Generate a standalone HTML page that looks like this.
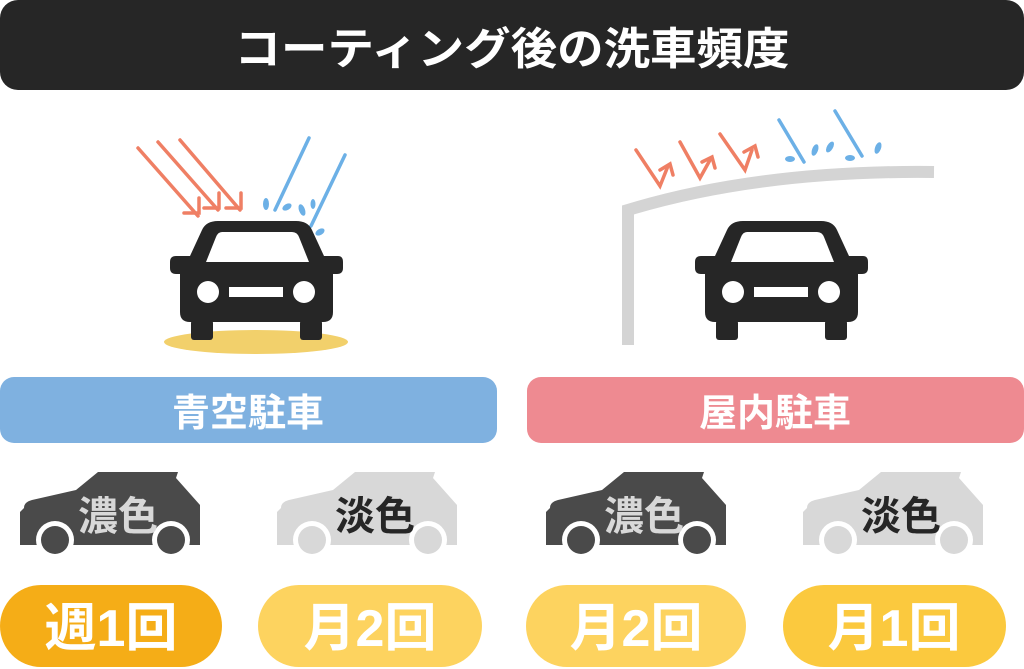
<!DOCTYPE html>
<html><head><meta charset="utf-8"><style>
html,body{margin:0;padding:0;background:#fff;width:1024px;height:669px;overflow:hidden}
svg{display:block}
text{font-family:"Liberation Sans","Noto Sans CJK JP",sans-serif;font-weight:bold}
</style></head><body>
<svg width="1024" height="669" viewBox="0 0 1024 669" xmlns="http://www.w3.org/2000/svg">
<defs>
<g id="front">
  <path d="M218 221 H296 Q308 221 312 230 L324 256 H338 Q343 256 343 262 V268 Q343 274 337 274 H333 V312 Q333 322 323 322 H190 Q180 322 180 312 V274 H176 Q170 274 170 268 V262 Q170 256 176 256 H190 L202 230 Q206 221 218 221 Z" fill="#262626"/>
  <path d="M222 232 H292 Q297 232 299 237 L309 262 H206 L216 237 Q218 232 222 232 Z" fill="#fff"/>
  <circle cx="208" cy="292" r="11" fill="#fff"/>
  <circle cx="304" cy="292" r="11" fill="#fff"/>
  <rect x="229" y="287" width="54" height="10" fill="#fff"/>
  <rect x="191" y="320" width="22" height="20" rx="3" fill="#262626"/>
  <rect x="300" y="320" width="22" height="20" rx="3" fill="#262626"/>
</g>
<g id="side">
  <path d="M98 472 H178 L176 478 L200 505 V545 H20 V512 L24 508 Q24 502 32 500 L76 490 Z"/>
</g>
</defs>

<rect x="0" y="0" width="1024" height="90" rx="18" fill="#262626"/>
<text x="512" y="64" text-anchor="middle" fill="#fff" font-size="44" textLength="555" lengthAdjust="spacingAndGlyphs">コーティング後の洗車頻度</text>

<!-- left scene -->
<ellipse cx="256" cy="342" rx="92" ry="12" fill="#f2d06b"/>
<g stroke="#ef7f64" stroke-width="3.5" stroke-linecap="round" fill="none">
  <path d="M138 148 L198 216"/><path d="M158 142 L218 210"/><path d="M180 140 L240 210"/>
  <path d="M184 213 H199 V198"/><path d="M204 208 H219 V193"/><path d="M226 208 H241 V193"/>
</g>
<g stroke="#6cb0e6" stroke-width="3.5" stroke-linecap="round">
  <line x1="309" y1="138" x2="275" y2="210"/><line x1="345" y1="155" x2="311" y2="226"/>
</g>
<g fill="#6cb0e6">
  <ellipse cx="266" cy="204" rx="3" ry="6"/><ellipse cx="287" cy="207" rx="5" ry="3" transform="rotate(-30 287 207)"/>
  <ellipse cx="302" cy="210" rx="3" ry="6" transform="rotate(-20 302 210)"/><ellipse cx="313" cy="204" rx="2.5" ry="5"/>
  <ellipse cx="320" cy="232" rx="5" ry="3" transform="rotate(-30 320 232)"/>
</g>
<use href="#front"/>

<!-- right scene -->
<path d="M628 345 V210 Q760 170 934 172" fill="none" stroke="#d4d4d4" stroke-width="12"/>
<g stroke="#ef7f64" stroke-width="3.5" stroke-linecap="round" fill="none">
  <path d="M636 150 L660 186 L668 166"/><path d="M660 170 L670 164 L673 175"/>
  <path d="M680 142 L700 178 L710 160"/><path d="M702 162 L712 157 L715 168"/>
  <path d="M720 134 L745 170 L752 150"/><path d="M744 152 L755 146 L758 157"/>
</g>
<g stroke="#6cb0e6" stroke-width="3.5" stroke-linecap="round">
  <line x1="779" y1="120" x2="804" y2="162"/><line x1="835" y1="111" x2="862" y2="156"/>
</g>
<g fill="#6cb0e6">
  <ellipse cx="790" cy="159" rx="5" ry="3"/><ellipse cx="815" cy="150" rx="3" ry="6" transform="rotate(20 815 150)"/>
  <ellipse cx="830" cy="147" rx="3" ry="6" transform="rotate(30 830 147)"/><ellipse cx="850" cy="158" rx="5" ry="3"/>
  <ellipse cx="878" cy="148" rx="3" ry="6" transform="rotate(20 878 148)"/>
</g>
<use href="#front" transform="translate(525 0)"/>

<!-- section bars -->
<rect x="0" y="377" width="497" height="66" rx="14" fill="#7fb1e0"/>
<text x="248" y="426" text-anchor="middle" fill="#fff" font-size="38">青空駐車</text>
<rect x="527" y="377" width="497" height="66" rx="14" fill="#ee8a91"/>
<text x="775" y="426" text-anchor="middle" fill="#fff" font-size="38">屋内駐車</text>

<!-- side cars -->
<g>
 <use href="#side" fill="#4a4a4a"/>
 <circle cx="55" cy="540" r="19" fill="#fff"/><circle cx="55" cy="540" r="14" fill="#4a4a4a"/>
 <circle cx="171" cy="540" r="19" fill="#fff"/><circle cx="171" cy="540" r="14" fill="#4a4a4a"/>
 <text x="118" y="530" text-anchor="middle" fill="#d8d8d8" font-size="40">濃色</text>
</g>
<g transform="translate(257 0)">
 <use href="#side" fill="#d8d8d8"/>
 <circle cx="55" cy="540" r="19" fill="#fff"/><circle cx="55" cy="540" r="14" fill="#d8d8d8"/>
 <circle cx="171" cy="540" r="19" fill="#fff"/><circle cx="171" cy="540" r="14" fill="#d8d8d8"/>
 <text x="118" y="530" text-anchor="middle" fill="#262626" font-size="40">淡色</text>
</g>
<g transform="translate(526 0)">
 <use href="#side" fill="#4a4a4a"/>
 <circle cx="55" cy="540" r="19" fill="#fff"/><circle cx="55" cy="540" r="14" fill="#4a4a4a"/>
 <circle cx="171" cy="540" r="19" fill="#fff"/><circle cx="171" cy="540" r="14" fill="#4a4a4a"/>
 <text x="118" y="530" text-anchor="middle" fill="#d8d8d8" font-size="40">濃色</text>
</g>
<g transform="translate(783 0)">
 <use href="#side" fill="#d8d8d8"/>
 <circle cx="55" cy="540" r="19" fill="#fff"/><circle cx="55" cy="540" r="14" fill="#d8d8d8"/>
 <circle cx="171" cy="540" r="19" fill="#fff"/><circle cx="171" cy="540" r="14" fill="#d8d8d8"/>
 <text x="118" y="530" text-anchor="middle" fill="#262626" font-size="40">淡色</text>
</g>

<!-- pills -->
<rect x="0" y="585" width="222" height="82" rx="41" fill="#f5ad17"/>
<text x="111" y="646" text-anchor="middle" fill="#fff" font-size="52">週1回</text>
<rect x="258" y="585" width="224" height="82" rx="41" fill="#fdd35f"/>
<text x="370" y="646" text-anchor="middle" fill="#fff" font-size="52">月2回</text>
<rect x="526" y="585" width="220" height="82" rx="41" fill="#fdd35f"/>
<text x="636" y="646" text-anchor="middle" fill="#fff" font-size="52">月2回</text>
<rect x="783" y="585" width="223" height="82" rx="41" fill="#fbc93e"/>
<text x="894" y="646" text-anchor="middle" fill="#fff" font-size="52">月1回</text>
</svg>
</body></html>
